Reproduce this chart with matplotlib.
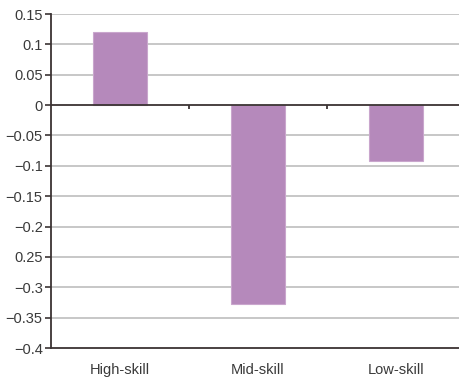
import matplotlib
import matplotlib.pyplot as plt

matplotlib.use("Agg")

plt.rcParams["font.family"] = ["Liberation Sans", "DejaVu Sans"]

# Данные
categories = ["High-skill", "Mid-skill", "Low-skill"]
values = [0.12, -0.327, -0.092]
y_ticks = [0.15, 0.1, 0.05, 0, -0.05, -0.1, -0.15, -0.2, -0.25, -0.3, -0.35, -0.4]
y_tick_labels = ["0.15", "0.1", "0.05", "0", "\u22120.05", "\u22120.1", "\u22120.15",
                 "\u22120.2", "0.25", "\u22120.3", "\u22120.35", "\u22120.4"]

_BAR_COLOR = "#b589bb"
_GRID_COLOR = "#b8b8b8"
_AXIS_COLOR = "#3b3333"
_TEXT_COLOR = "#3a3a3a"

fig = plt.figure(figsize=(4.59, 3.78), dpi=100)
ax = fig.add_axes([51 / 459, 30 / 378, 414 / 459, 334 / 378])

x = range(len(categories))
ax.bar(x, values, width=0.39, color=_BAR_COLOR, edgecolor="#c9a6cd",
       linewidth=0.8, zorder=3)

ax.set_xlim(-0.5, 2.5)
ax.set_ylim(-0.4, 0.15)

# Горизонтальная сетка
for y in y_ticks:
    if y in (0, -0.4):
        continue
    ax.axhline(y, color=_GRID_COLOR, linewidth=1.1, zorder=1)
ax.axhline(0, color=_AXIS_COLOR, linewidth=1.3, zorder=4)

# Засечки на нулевой линии между категориями
for xb in (0.5, 1.5):
    ax.plot([xb, xb], [0, -0.006], color=_AXIS_COLOR, linewidth=1.3,
            zorder=4, solid_capstyle="butt")

for side in ("top", "right"):
    ax.spines[side].set_visible(False)
for side in ("left", "bottom"):
    ax.spines[side].set_color(_AXIS_COLOR)
    ax.spines[side].set_linewidth(1.3)

ax.set_yticks(y_ticks)
ax.set_yticklabels(y_tick_labels, fontsize=10.5, color=_TEXT_COLOR)
ax.tick_params(axis="y", direction="out", length=4, width=1.2,
               color=_AXIS_COLOR, pad=2)

ax.set_xticks(list(x))
ax.set_xticklabels(categories, fontsize=10.5, color=_TEXT_COLOR)
ax.tick_params(axis="x", length=0, pad=11)

fig.savefig("out.png", dpi=100)
plt.close(fig)
